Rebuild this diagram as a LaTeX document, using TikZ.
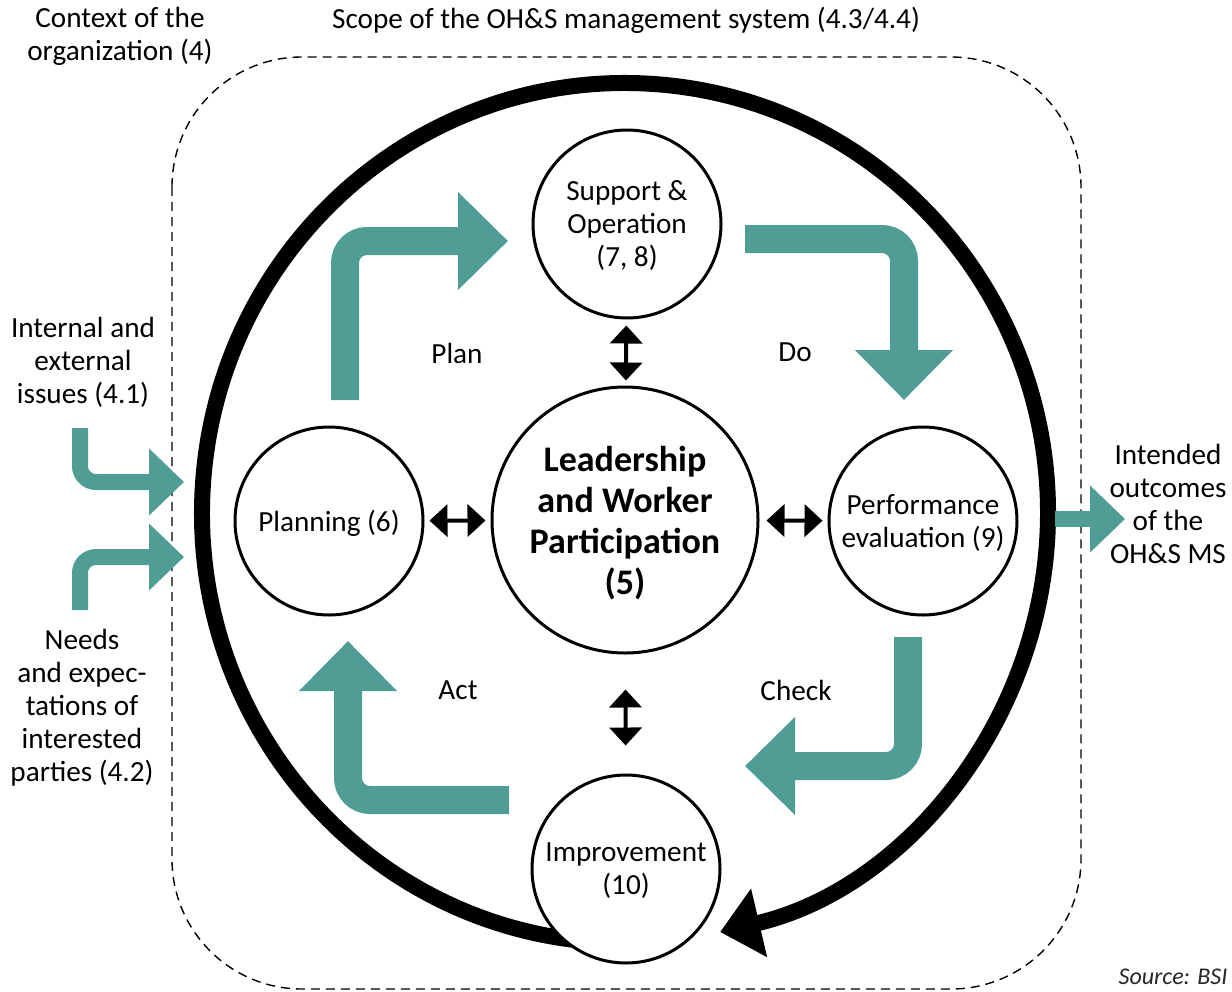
\documentclass[tikz,border=0pt]{standalone}
\usepackage{fontspec}
\setmainfont{Carlito}
\usepackage{tikz}
\usetikzlibrary{arrows.meta}

\definecolor{pdcateal}{RGB}{79,157,148}

\tikzset{
  stage/.style={circle, draw, line width=1.5pt, fill=white, minimum size=94pt,
    inner sep=0pt, text depth=0pt, align=center, font=\fontsize{14.6}{16.5}\selectfont},
  core/.style={stage, minimum size=133pt, font=\bfseries\fontsize{18}{20.5}\selectfont},
  sidetext/.style={align=center, inner sep=0pt, font=\fontsize{14.6}{16.5}\selectfont},
  pdcaflow/.style={pdcateal, line width=14pt, rounded corners=11pt,
    -{Triangle[width=47.5pt, length=25pt]}},
  contextflow/.style={pdcateal, line width=8pt, rounded corners=8pt,
    -{Triangle[width=32.5pt, length=17.5pt]}},
  twoway/.style={line width=2pt,
    {Triangle[width=16pt, length=9pt]}-{Triangle[width=16pt, length=9pt]}},
  scopebox/.style={dash pattern=on 4.5pt off 3pt, line width=0.7pt, rounded corners=65pt},
  ring/.style={line width=8pt, -{Triangle[width=34pt, length=20pt]}}
}

\begin{document}
\begin{tikzpicture}[x=0.5pt, y=-0.5pt]
  \useasboundingbox (0,0) rectangle (1232,991);

  % scope of the management system
  \draw[scopebox] (172,57) rectangle (1081,989);

  % the big cycle
  \coordinate (ringc) at (625,513);
  \draw[ring] (ringc) ++(95:423 and 430)
    arc[start angle=95, end angle=437, x radius=423, y radius=430];

  % stages
  \node[stage] (support) at (627,224) {Support \&\\Operation\\(7, 8)};
  \node[stage] (planning) at (329,521) {Planning (6)};
  \node[core] (lead) at (625,520) {Leadership\\and Worker\\Participation\\(5)};
  \node[stage] (perf) at (923,521) {Performance\\evaluation (9)};
  \node[stage] (improve) at (626,869) {Improvement\\(10)};

  \draw[twoway, shorten <=3pt, shorten >=2.5pt] (support) -- (lead);
  \draw[twoway, shorten <=2.5pt, shorten >=2.5pt] (planning) -- (lead);
  \draw[twoway, shorten <=3.5pt, shorten >=2.5pt] (lead) -- (perf);
  \draw[twoway, shorten <=17.5pt, shorten >=14pt] (lead) -- (improve);

  % plan - do - check - act
  \coordinate (plan-in) at (345,400);
  \coordinate (plan-out) at (508,241);
  \coordinate (do-in) at (745,239);
  \coordinate (do-out) at (904,400);
  \coordinate (check-in) at (908,637);
  \coordinate (check-out) at (745,766);
  \coordinate (act-in) at (509,800);
  \coordinate (act-out) at (348,641);
  \draw[pdcaflow] (plan-in) |- (plan-out);
  \draw[pdcaflow] (do-in) -| (do-out);
  \draw[pdcaflow] (check-in) |- (check-out);
  \draw[pdcaflow] (act-in) -| (act-out);

  \node[sidetext] (plan) at (457,353) {Plan};
  \node[sidetext] (do) at (795,352) {Do};
  \node[sidetext] (check) at (796,690) {Check};
  \node[sidetext] (act) at (458,690) {Act};

  % context, inputs and outputs
  \node[sidetext] (context) at (120,36) {Context of the\\organization (4)};
  \node[sidetext] (scope) at (626,20) {Scope of the OH\&S management system (4.3/4.4)};
  \node[sidetext] (issues) at (83,362) {Internal and\\external\\issues (4.1)};
  \node[sidetext] (needs) at (82,708) {Needs\\and expec-\\tations of\\interested\\parties (4.2)};
  \node[sidetext] (outcomes) at (1168,504) {Intended\\outcomes\\of the\\OH\&S MS};

  \coordinate (issues-in) at (80,428);
  \coordinate (issues-out) at (184,482);
  \coordinate (needs-in) at (80,610);
  \coordinate (needs-out) at (184,557);
  \coordinate (result-in) at (1055,519);
  \coordinate (result-out) at (1125,519);
  \draw[contextflow] (issues-in) |- (issues-out);
  \draw[contextflow] (needs-in) |- (needs-out);
  \draw[contextflow] (result-in) -- (result-out);

  \node[sidetext, font=\itshape\fontsize{12}{14}\selectfont, text=black!85] (source) at (1173,977) {Source: BSI};
\end{tikzpicture}
\end{document}
